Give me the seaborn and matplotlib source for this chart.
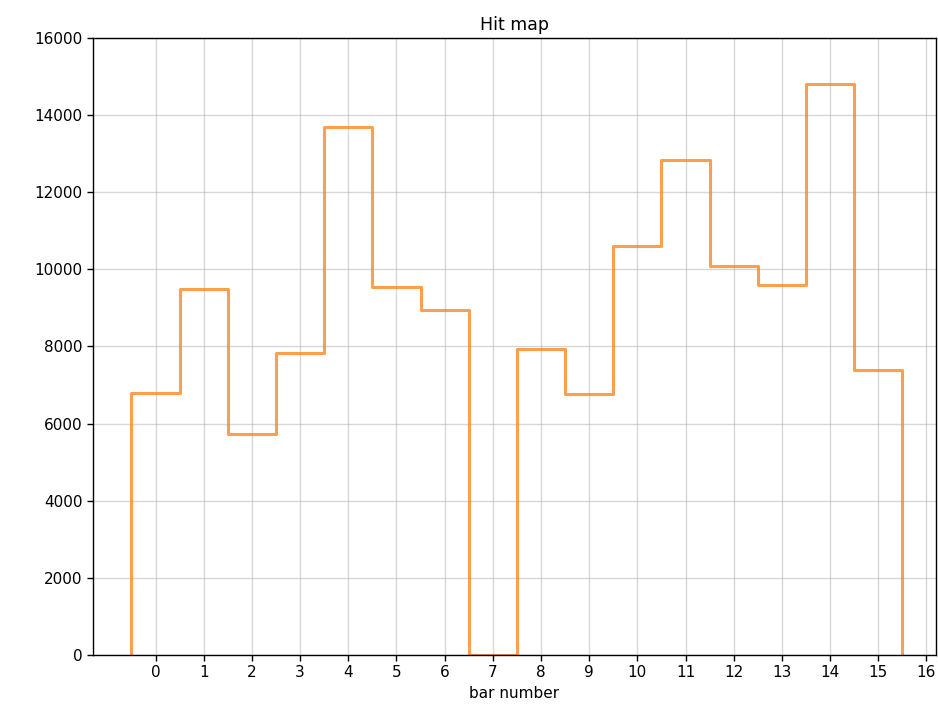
import numpy as np
import pandas as pd
import matplotlib
matplotlib.use("Agg")
import matplotlib.pyplot as plt
import seaborn as sns

# hits per bar number
bar_number = list(range(16))
hits = [6800, 9495, 5730, 7840, 13680, 9540, 8955, 0,
        7930, 6760, 10610, 12830, 10080, 9590, 14810, 7390]

df = pd.DataFrame({'bar': bar_number, 'hits': hits})

sns.set_style("ticks")
plt.rcParams['font.family'] = ['DejaVu Sans']

fig = plt.figure(figsize=(9.38, 7.15), dpi=100)
ax = fig.add_axes([0.099, 0.084, 0.899, 0.863])

sns.histplot(data=df, x='bar', weights='hits', discrete=True, element='step',
             fill=False, color='#ff7f0e', alpha=0.75, linewidth=2.2, ax=ax)

# close the outline down to zero at both ends, like a step histogram
line = ax.lines[0]
xs, ys = line.get_data()
xs = np.concatenate([[xs[0]], xs, [xs[-1]]])
ys = np.concatenate([[0], ys, [0]])
line.set_data(xs, ys)

ax.set_xlim(-1.3, 16.2)
ax.set_ylim(0, 16000)
ax.set_xticks(range(17))
ax.set_yticks(range(0, 16001, 2000))
ax.grid(True, color='#b0b0b0', alpha=0.5, linewidth=1)
ax.set_axisbelow(True)
ax.tick_params(labelsize=11, length=4, width=1, colors='black')
for s in ax.spines.values():
    s.set_color('black')
    s.set_linewidth(1)
    s.set_visible(True)

ax.set_title('Hit map', fontsize=12.5, color='black')
ax.set_xlabel('bar number', fontsize=11, color='black')
ax.set_ylabel('')

fig.savefig('out.png', dpi=100)
